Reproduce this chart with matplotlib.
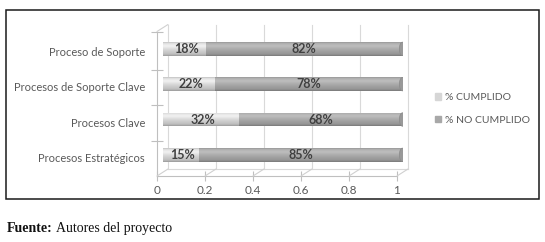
import numpy as np
import matplotlib
matplotlib.use("Agg")
import matplotlib.pyplot as plt
from matplotlib.transforms import offset_copy
from matplotlib.patches import Rectangle, Ellipse

# datos
categorias = ["Procesos Estratégicos", "Procesos Clave",
              "Procesos de Soporte Clave", "Proceso de Soporte"]
cumplido = [0.15, 0.32, 0.22, 0.18]
no_cumplido = [0.85, 0.68, 0.78, 0.82]
series = ["% CUMPLIDO", "% NO CUMPLIDO"]
ticks = [0, 0.2, 0.4, 0.6, 0.8, 1]
tick_labels = ["0", "0.2", "0.4", "0.6", "0.8", "1"]

W, H = 545, 242
fig = plt.figure(figsize=(W / 100, H / 100), dpi=100)
plt.rcParams["font.family"] = ["Lato", "DejaVu Sans"]

gris_txt = "#595959"
c_claro = "#d6d6d6"
c_oscuro = "#a8a8a8"

# ejes en el plano medio (efecto 3D de Excel)
ax = fig.add_axes([162.5 / W, (H - 172.5) / H, 240 / W, 144.5 / H])
ax.set_xlim(0, 1)
ax.set_ylim(-0.5, 3.59)
ax.axis("off")

front = offset_copy(ax.transData, fig=fig, x=-5.5, y=-3.5, units="dots")
back = offset_copy(ax.transData, fig=fig, x=5.5, y=3.5, units="dots")
ylo, yhi = ax.get_ylim()

# pared del fondo y suelo
for v, lab in zip(ticks, tick_labels):
    ax.plot([v, v], [ylo, yhi], color="#d9d9d9", lw=0.8, transform=back, clip_on=False)
    ax.annotate("", xy=(v, ylo), xycoords=back, xytext=(v, ylo), textcoords=front,
                arrowprops=dict(arrowstyle="-", color="#d0d0d0", lw=0.8,
                                shrinkA=0, shrinkB=0))
    ax.plot([v], [ylo], color="#bfbfbf", transform=front, clip_on=False,
            marker="|", markersize=7, markeredgewidth=0.8)
    ax.text(v, ylo, lab, transform=offset_copy(front, fig=fig, x=0, y=-15, units="dots"),
            ha="center", va="center", fontsize=8.5, color=gris_txt)
ax.plot([0, 1], [ylo, ylo], color="#d9d9d9", lw=0.8, transform=back, clip_on=False)
ax.plot([0, 1], [ylo, ylo], color="#bfbfbf", lw=0.8, transform=front, clip_on=False)
# eje vertical izquierdo
ax.plot([0, 0], [ylo, yhi], color="#bfbfbf", lw=0.8, transform=front, clip_on=False)
ax.annotate("", xy=(0, yhi), xycoords=back, xytext=(0, yhi), textcoords=front,
            arrowprops=dict(arrowstyle="-", color="#d0d0d0", lw=0.8, shrinkA=0, shrinkB=0))
for s in [0.5, 1.5, 2.5, yhi]:
    ax.plot([0], [s], transform=front, marker="_", markersize=8, color="#bfbfbf",
            clip_on=False, markeredgewidth=0.8)

# barras
y = np.arange(len(categorias))
alto = 0.38
b1 = ax.barh(y, cumplido, height=alto, color=c_claro, zorder=3)
b2 = ax.barh(y, no_cumplido, left=cumplido, height=alto, color=c_oscuro, zorder=3)

# sombreado cilindrico
t = np.linspace(0, 1, 60)
perfil = np.interp(t, [0, 0.12, 0.45, 0.72, 0.9, 1], [0.72, 0.88, 1.0, 1.13, 1.06, 0.9])
for barras, base in [(b1, c_claro), (b2, c_oscuro)]:
    rgb = np.array(matplotlib.colors.to_rgb(base))
    for p in barras:
        img = np.clip(perfil[:, None, None] * rgb[None, None, :], 0, 1)
        x0, y0 = p.get_x(), p.get_y()
        im = ax.imshow(img, extent=[x0, x0 + p.get_width(), y0, y0 + p.get_height()],
                       origin="lower", aspect="auto", zorder=4, interpolation="bilinear")
        im.set_clip_path(p)
for p in b2:
    ax.add_patch(Ellipse((p.get_x() + p.get_width(), p.get_y() + alto / 2), 0.026, alto,
                         facecolor="#999999", edgecolor="#8a8a8a", lw=0.5, zorder=5))
ax.set_xlim(0, 1)
ax.set_ylim(ylo, yhi)

# etiquetas de datos
for i in range(len(categorias)):
    ax.text(cumplido[i] / 2 + 0.01, y[i], f"{cumplido[i]:.0%}", ha="center", va="center",
            fontsize=9, fontweight="bold", color="#404040", zorder=6)
    ax.text(cumplido[i] + no_cumplido[i] / 2, y[i], f"{no_cumplido[i]:.0%}",
            ha="center", va="center", fontsize=9, fontweight="bold", color="#404040", zorder=6)

# categorias
for i, c in enumerate(categorias):
    ax.text(0, y[i], c, transform=offset_copy(front, fig=fig, x=-12, y=0, units="dots"),
            ha="right", va="center", fontsize=8, color=gris_txt)

# leyenda
handles = [Rectangle((0, 0), 1, 1, color=c_claro), Rectangle((0, 0), 1, 1, color=c_oscuro)]
leg = fig.legend(handles, series, loc="center left", bbox_to_anchor=(431 / W, (H - 109) / H),
                 frameon=False, fontsize=7.5, handlelength=0.6, handleheight=0.6,
                 handletextpad=0.3, labelspacing=1.3, borderaxespad=0)
for txt in leg.get_texts():
    txt.set_color(gris_txt)

# marco
fig.patches.append(Rectangle((6 / W, (H - 199) / H), 533 / W, 189 / H, transform=fig.transFigure,
                             fill=False, edgecolor="#1a1a1a", lw=1.1))

# fuente
t1 = fig.text(7 / W, (H - 232) / H, "Fuente:", fontsize=10, fontweight="bold",
              family="Liberation Serif", va="baseline", ha="left", color="#111111")
fig.add_artist(matplotlib.text.Annotation(
    "Autores del proyecto", xy=(1, 0), xycoords=t1, xytext=(2.5, 0),
    textcoords="offset points", fontsize=10, family="Liberation Serif",
    va="bottom", ha="left", color="#111111"))

fig.savefig("out.png", dpi=100)
